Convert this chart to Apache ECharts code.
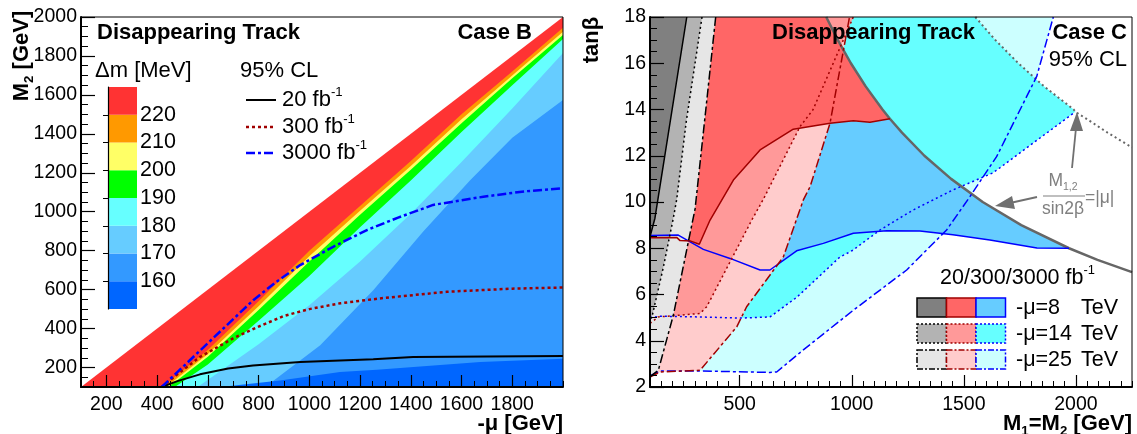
<!DOCTYPE html>
<html><head><meta charset="utf-8">
<script src="https://cdn.jsdelivr.net/npm/echarts@6/dist/echarts.min.js"></script>
<style>html,body{margin:0;padding:0;background:#fff}#c{width:1137px;height:434px}</style>
</head><body><div id="c"></div>
<script>
// ================= LEFT PANEL (Case B): [-mu, M2] in GeV =================
const xTicksB = [200,400,600,800,1000,1200,1400,1600,1800];
const yTicksB = [200,400,600,800,1000,1200,1400,1600,1800,2000];
const dmLevels = [150,160,170,180,190,200,210,220,230];
const dmColors = ['#0066ff','#3399ff','#66ccff','#66ffff','#00ff00','#ffff66','#ff9900','#ff3333'];
const dmTickLabels = [160,170,180,190,200,210,220];
// band boundaries (upper edge of each colour region)
const edgeDiag = [[100,100],[2000,2000]];
const edge220 = [[100,100],[420,100],[600,290],[800,540],[1000,800],[1200,1030],[1400,1260],[1600,1500],[1800,1720],[2000,1945]];
const edge210 = [[100,100],[435,100],[600,270],[800,515],[1000,772],[1200,1005],[1400,1235],[1600,1475],[1800,1700],[2000,1924]];
const edge200 = [[100,100],[445,100],[600,255],[800,495],[1000,745],[1200,985],[1400,1215],[1600,1455],[1800,1685],[2000,1908]];
const edge190 = [[100,100],[470,100],[600,215],[800,440],[1000,670],[1200,920],[1400,1160],[1600,1410],[1800,1650],[2000,1887]];
const edge180 = [[100,100],[560,100],[800,320],[1000,520],[1200,745],[1400,990],[1600,1255],[1800,1530],[2000,1815]];
const edge170 = [[100,100],[826,100],[1043,315],[1252,597],[1450,900],[1634,1162],[1800,1380],[2000,1574]];
const edge160 = [[100,100],[650,100],[885,134],[1121,177],[1266,189],[1674,229],[2000,245]];
// exclusion limits
const lim20 = [[418,100],[480,130],[569,165],[680,195],[778,211],[964,229],[1252,242],[1409,254],[1700,257],[2000,259]];
const lim300 = [[418,100],[480,165],[569,254],[700,350],[800,410],[900,465],[1000,500],[1122,530],[1279,555],[1542,589],[1800,605],[2000,611]];
const lim3000 = [[418,100],[600,325],[779,546],[870,640],[964,726],[1094,820],[1227,906],[1350,970],[1488,1035],[1686,1077],[1850,1105],[2000,1120]];

// ================= RIGHT PANEL (Case C): [M1=M2, tanb] =================
const xTicksC = [500,1000,1500,2000];
const mu8Curve = [[886,18],[938,17],[996,16],[1062,15],[1137,14],[1170,13.6],[1224,13],[1324,12],[1443,11],[1584,10],[1756,9],[1969,8],[2096,7.5],[2250,6.97]];
const mu14Curve = [[1551,18],[1641,17],[1743,16],[1858,15],[1990,14],[1997,13.9],[2063,13.5],[2141,13],[2226,12.5],[2250,12.36]];
const gray8 = [[264,18],[122,9.3],[100,8.5]];
const gray14 = [[332,18],[262,13.5],[219,10.1],[204,9.3],[160,7.2],[108,5.0],[100,4.95]];
const gray25 = [[393,18],[349,14],[301,9.7],[204,5.1],[137,2.72],[100,2.45]];
const red8 = [[100,8.45],[219,8.47],[234,8.33],[282,8.31],[320,8.17],[368,9.22],[472,10.95],[591,12.25],[739,13.15],[903,13.41],[1007,13.51],[1081,13.45],[1170,13.6]];
const red14 = [[100,4.75],[137,5.03],[323,5.18],[353,5.47],[554,9.22],[604,10.09],[769,13.26],[827,13.99],[1007,18]];
const red25 = [[100,2.43],[145,2.65],[323,2.72],[487,4.6],[531,5.47],[695,7.63],[784,10.09],[814,10.66],[903,13.41],[990,18]];
const blue8 = [[100,8.55],[226,8.57],[338,7.95],[457,7.56],[591,7.06],[635,7.06],[754,7.89],[873,8.21],[1007,8.65],[1156,8.76],[1304,8.75],[1451,8.58],[1616,8.36],[1826,8.01],[1969,8.0]];
const blue14 = [[100,5.0],[145,5.06],[323,5.03],[501,4.98],[635,5.03],[756,5.89],[947,7.62],[1006,7.92],[1126,8.79],[1273,9.65],[1451,10.52],[1630,11.26],[1997,13.9]];
const blue25 = [[100,2.48],[145,2.69],[336,2.69],[635,2.63],[665,2.65],[782,3.59],[1007,5.32],[1245,7.06],[1423,8.79],[1527,10.23],[1646,11.96],[1825,15.43],[1899,18]];
const legendRows = ['-\u03bc=8', '-\u03bc=14', '-\u03bc=25'];
const legendFill = [['#808080','#ff6666','#66ccff'],['#b3b3b3','#ff9999','#66ffff'],['#e6e6e6','#ffcccc','#ccffff']];

const FONT = "'Liberation Sans', Arial, Helvetica, sans-serif";
const DOT = [2,3], DASHDOT = [9,3,3,3];
const DRED = '#a00000', BLUE = '#0000ff';

function poly(pts, fill, xi, yi) {
  return {type:'custom', xAxisIndex:xi, yAxisIndex:yi, clip:true, silent:true, data:pts, encode:{x:0,y:1},
    renderItem: function(params, api){
      if (params.dataIndex !== 0) return null;
      return {type:'polygon', shape:{points: pts.map(p => api.coord(p))}, style:{fill: fill}};
    }};
}
function line(pts, color, width, type, xi, yi) {
  return {type:'line', xAxisIndex:xi, yAxisIndex:yi, data:pts, symbol:'none', showSymbol:false, silent:true, clip:true,
    lineStyle:{color:color, width:width, type:type}};
}
const topLeft = [[100,18]];
const upper = (curve, y) => curve.filter(p => p[1] > y).reverse();

const series = [];
// left bands
const leftEdges = [edgeDiag, edge220, edge210, edge200, edge190, edge180, edge170, edge160];
leftEdges.forEach((e, i) => {
  series.push(poly(e.concat([[2000,100]]), dmColors[7 - i], 0, 0));
});
series.push(line(lim20, '#000000', 2, 'solid', 0, 0));
series.push(line(lim300, DRED, 2.5, [3,3], 0, 0));
series.push(line(lim3000, BLUE, 2.5, DASHDOT, 0, 0));
// colour bar
series.push({type:'custom', xAxisIndex:4, yAxisIndex:4, silent:true,
  data: dmColors.map((c, i) => [0, dmLevels[i], dmLevels[i+1], i]), encode:{x:0, y:[1,2]},
  renderItem: function(params, api){
    const a = api.coord([0, api.value(2)]), b = api.coord([1, api.value(1)]);
    return {type:'rect', shape:{x:a[0], y:a[1], width:b[0]-a[0], height:b[1]-a[1]}, style:{fill: dmColors[api.value(3)]}};
  }});
// right fills (bottom to top)
series.push(poly(blue25.concat(topLeft), '#ccffff', 2, 2));
series.push(poly(blue14.concat(upper(mu14Curve, 13.9), topLeft), '#66ffff', 2, 2));
series.push(poly(blue8.concat(upper(mu8Curve, 8.0), topLeft), '#66ccff', 2, 2));
series.push(poly(red25.concat(topLeft), '#ffcccc', 2, 2));
series.push(poly(red14.concat(topLeft), '#ff9999', 2, 2));
series.push(poly(red8.concat(upper(mu8Curve, 13.6), topLeft), '#ff6666', 2, 2));
series.push(poly(topLeft.concat(gray25), '#e6e6e6', 2, 2));
series.push(poly(topLeft.concat(gray14), '#b3b3b3', 2, 2));
series.push(poly(topLeft.concat(gray8), '#808080', 2, 2));
// right lines
series.push(line(mu14Curve, '#666666', 2, [2,3], 2, 2));
series.push(line(mu8Curve, '#666666', 2.5, 'solid', 2, 2));
series.push(line(blue25, BLUE, 1.5, DASHDOT, 2, 2));
series.push(line(blue14, BLUE, 1.5, DOT, 2, 2));
series.push(line(blue8, BLUE, 1.5, 'solid', 2, 2));
series.push(line(red25, DRED, 1.5, DASHDOT, 2, 2));
series.push(line(red14, DRED, 1.5, DOT, 2, 2));
series.push(line(red8, DRED, 1.5, 'solid', 2, 2));
series.push(line(gray25, '#000000', 1.5, DASHDOT, 2, 2));
series.push(line(gray14, '#000000', 1.5, DOT, 2, 2));
series.push(line(gray8, '#000000', 1.5, 'solid', 2, 2));

// ---------- axes ----------
const plain = v => String(v);
const lab = (size) => ({fontSize:size, color:'#000', fontFamily:FONT, formatter:plain});
function minorAxis(grid, min, max, interval, len) {
  return {gridIndex:grid, type:'value', min:min, max:max, interval:interval, z:10,
    axisLine:{show:true, lineStyle:{color:'#000', width:2}}, axisTick:{show:true, inside:true, length:len, lineStyle:{color:'#000', width:1}},
    axisLabel:{show:false}, splitLine:{show:false}};
}
function majorAxis(grid, min, max, vals, len, margin) {
  return {gridIndex:grid, type:'value', min:min, max:max, z:10,
    axisLine:{show:false}, axisTick:{show:true, inside:true, length:len, customValues:vals, lineStyle:{color:'#000', width:1.2}},
    axisLabel:Object.assign({show:true, customValues:vals, margin:margin}, lab(19.5)), splitLine:{show:false}};
}
const xAxis = [
  minorAxis(0, 100, 2000, 50, 6),
  majorAxis(1, 100, 2000, xTicksB, 12, 8),
  minorAxis(2, 100, 2250, 50, 6),
  majorAxis(3, 100, 2250, xTicksC, 12, 8),
  {gridIndex:4, type:'value', min:0, max:1, show:false}
];
const yAxis = [
  minorAxis(0, 100, 2000, 50, 7),
  majorAxis(1, 100, 2000, yTicksB, 14, 4),
  {gridIndex:2, type:'value', min:2, max:18, interval:2, z:10,
    axisLine:{show:true, lineStyle:{color:'#000', width:2}}, axisTick:{show:true, inside:true, length:14, lineStyle:{color:'#000', width:1.2}},
    minorTick:{show:true, splitNumber:4, length:7, lineStyle:{color:'#000', width:1}},
    axisLabel:Object.assign({margin:4}, lab(19.5)), splitLine:{show:false}},
  {gridIndex:3, type:'value', min:2, max:18, show:false},
  {gridIndex:4, type:'value', min:150, max:230, interval:10, position:'right', z:10,
    axisLine:{show:true, lineStyle:{color:'#000', width:1.2}}, axisTick:{show:true, inside:true, length:5, customValues:dmTickLabels, lineStyle:{color:'#000'}},
    axisLabel:Object.assign({customValues:dmTickLabels, margin:3}, lab(21.5)), splitLine:{show:false}}
];

// ---------- graphic texts ----------
function richStyles(size, bold, color) {
  const w = bold ? 'bold' : 'normal';
  return {
    n:{fontSize:size, fontWeight:w, fontFamily:FONT, fill:color, color:color, lineHeight:size*1.3, verticalAlign:'middle'},
    sup:{fontSize:size*0.6, fontWeight:w, fontFamily:FONT, fill:color, color:color, lineHeight:size*1.3, verticalAlign:'top'},
    sub:{fontSize:size*0.6, fontWeight:w, fontFamily:FONT, fill:color, color:color, lineHeight:size*1.3, verticalAlign:'bottom'}
  };
}
function txt(x, y, text, size, o) {
  o = o || {};
  const color = o.color || '#000';
  return {type:'text', x:x, y:y, rotation:o.rot || 0, z:100, silent:true,
    style:{text:text, fontSize:size, fontFamily:FONT, fontWeight:o.bold ? 'bold' : 'normal', fill:color,
      align:o.align || 'left', verticalAlign:'middle', rich:richStyles(size, o.bold, color)}};
}
function seg(x1, y1, x2, y2, color, width, dash) {
  return {type:'line', z:100, silent:true, shape:{x1:x1, y1:y1, x2:x2, y2:y2}, style:{stroke:color, lineWidth:width, lineDash:dash || null}};
}
const graphic = [
  txt(97, 33, 'Disappearing Track', 22, {bold:true}),
  txt(532, 33, 'Case B', 22, {bold:true, align:'right'}),
  txt(95, 71, '\u0394m [MeV]', 22),
  txt(240, 71, '95% CL', 22),
  seg(246, 100, 276, 100, '#000', 2),
  seg(246, 127, 276, 127, DRED, 2.5, [3,3]),
  seg(246, 153, 276, 153, BLUE, 2.5, DASHDOT),
  txt(282, 100, '{n|20 fb}{sup|-1}', 22),
  txt(282, 127, '{n|300 fb}{sup|-1}', 22),
  txt(282, 153, '{n|3000 fb}{sup|-1}', 22),
  txt(22, 56, '{n|M}{sub|2}{n| [GeV]}', 22, {bold:true, rot:Math.PI/2, align:'center'}),
  txt(563, 424, '-\u03bc [GeV]', 22, {bold:true, align:'right'}),
  txt(592, 40, 'tan\u03b2', 22, {bold:true, rot:Math.PI/2, align:'center'}),
  txt(1132, 424, '{n|M}{sub|1}{n|=M}{sub|2}{n| [GeV]}', 22, {bold:true, align:'right'}),
  txt(772, 33, 'Disappearing Track', 22, {bold:true}),
  txt(1127, 33, 'Case C', 22, {bold:true, align:'right'}),
  txt(1127, 60, '95% CL', 22, {align:'right'}),
  txt(940, 278, '{n|20/300/3000 fb}{sup|-1}', 21.5),
  // annotation
  txt(1063, 181, '{n|M}{sub|1,2}', 17.5, {align:'center', color:'#808080'}),
  seg(1043, 196, 1085, 196, '#808080', 1.2),
  txt(1063, 209, 'sin2\u03b2', 17.5, {align:'center', color:'#808080'}),
  txt(1085, 198, '=|\u03bc|', 17.5, {color:'#808080'}),
  seg(1072, 168, 1076, 128, '#707070', 1.8),
  {type:'polygon', z:100, silent:true, shape:{points:[[1077,112],[1070,131],[1083,131]]}, style:{fill:'#707070'}},
  seg(1037, 197, 1010, 203, '#707070', 1.8),
  {type:'polygon', z:100, silent:true, shape:{points:[[995,206],[1012,196],[1015,209]]}, style:{fill:'#707070'}}
];
const borderCols = ['#000000', DRED, BLUE];
const dashRows = [null, [2,2], [6,2,2,2]];
const rowY = [298, 324, 350];
legendRows.forEach((lbl, r) => {
  legendFill[r].forEach((c, k) => {
    graphic.push({type:'rect', z:100, silent:true, shape:{x:917 + k*29.5, y:rowY[r], width:29.5, height:19},
      style:{fill:c, stroke:borderCols[k], lineWidth:1.5, lineDash:dashRows[r]}});
  });
  graphic.push(txt(1016, rowY[r] + 10, lbl, 21.5));
  graphic.push(txt(1118, rowY[r] + 10, 'TeV', 21.5, {align:'right'}));
});

const option = {
  animation:false,
  backgroundColor:'#ffffff',
  grid:[
    {left:81, top:17, width:482, height:370, show:true, borderColor:'#000', borderWidth:1, z:10, backgroundColor:'transparent'},
    {left:81, top:17, width:482, height:370},
    {left:650, top:17, width:482, height:370, show:true, borderColor:'#000', borderWidth:1, z:10, backgroundColor:'transparent'},
    {left:650, top:17, width:482, height:370},
    {left:108, top:87, width:29, height:222}
  ],
  xAxis:xAxis, yAxis:yAxis, series:series, graphic:graphic
};
const chart = echarts.init(document.getElementById('c'), null, {renderer:'canvas', width:1137, height:434});
chart.setOption(option);
</script></body></html>
